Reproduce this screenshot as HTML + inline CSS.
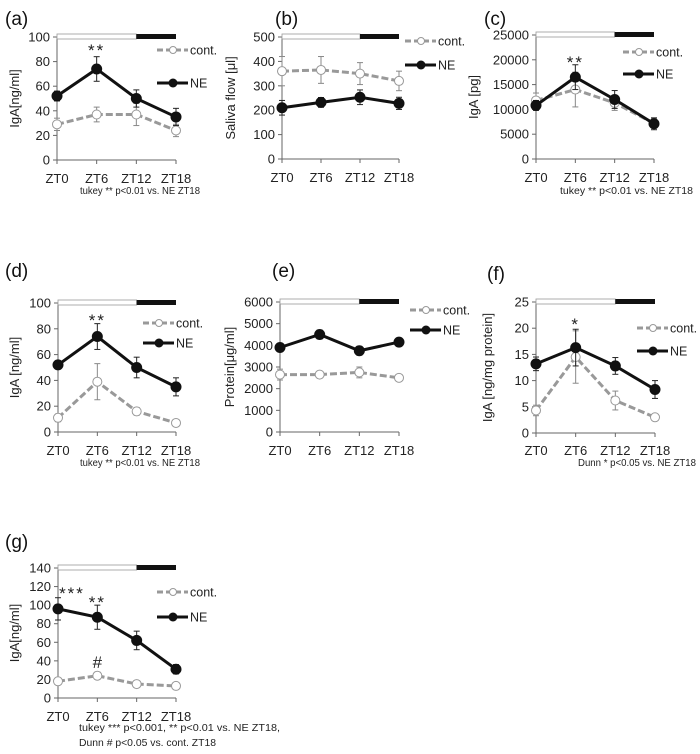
<!DOCTYPE html>
<html><head><meta charset="utf-8">
<style>
body{margin:0;background:#fff;width:700px;height:749px;overflow:hidden}
svg{font-family:"Liberation Sans","DejaVu Sans",sans-serif}
</style></head>
<body>
<svg id="fig" width="700" height="749" xmlns="http://www.w3.org/2000/svg"></svg>
<script>
const categories=["ZT0","ZT6","ZT12","ZT18"];
const aCont=[29,37,37,24], aContErr=[5,6,9,5], aNE=[52,74,50,35], aNEErr=[4,10,7,7];
const bCont=[360,365,350,320], bContErr=[60,55,45,40], bNE=[210,232,253,228], bNEErr=[30,20,30,25];
const cCont=[11800,14000,11300,7200], cContErr=[1500,3500,1500,1000], cNE=[10800,16500,12000,7100], cNEErr=[1000,2500,1800,1200];
const dCont=[11,39,16,7], dContErr=[3,14,3,1], dNE=[52,74,50,35], dNEErr=[3,10,8,7];
const eCont=[2650,2650,2750,2500], eContErr=[250,150,250,100], eNE=[3900,4500,3750,4150], eNEErr=[150,200,200,150];
const fCont=[4.3,14.5,6.2,3], fContErr=[1,5,1.8,0.5], fNE=[13.2,16.3,12.8,8.3], fNEErr=[1.3,3.5,1.6,1.7];
const gCont=[18,24,15,13], gContErr=[2,4,2,2], gNE=[96,87,62,31], gNEErr=[12,13,10,5];
const ticksA=[0,20,40,60,80,100], ticksB=[0,100,200,300,400,500], ticksC=[0,5000,10000,15000,20000,25000];
const ticksE=[0,1000,2000,3000,4000,5000,6000], ticksF=[0,5,10,15,20,25], ticksG=[0,20,40,60,80,100,120,140];

const NS="http://www.w3.org/2000/svg";
const svg=document.getElementById('fig');
function mk(tag,attrs,parent,text){const e=document.createElementNS(NS,tag);for(const k in attrs)e.setAttribute(k,attrs[k]);if(text!==undefined)e.textContent=text;(parent||svg).appendChild(e);return e;}

const panels=[
 {id:"a",x0:57,x1:176,yTop:37,yBot:160,ticks:ticksA,cont:aCont,ce:aContErr,ne:aNE,ne_e:aNEErr,title:"IgA[ng/ml]",tx:19,lx:157,ly:50,ly2:83,labY:178,
  stars:[{t:"**",i:1,y:48}],notes:[{t:"tukey ** p<0.01 vs. NE ZT18",x:80,y:194,w:120}]},
 {id:"b",x0:282,x1:399,yTop:37,yBot:159,ticks:ticksB,cont:bCont,ce:bContErr,ne:bNE,ne_e:bNEErr,title:"Saliva flow [\u03bcl]",tx:235,lx:405,ly:41,ly2:65,labY:177,stars:[],notes:[]},
 {id:"c",x0:536,x1:654,yTop:35,yBot:159,ticks:ticksC,cont:cCont,ce:cContErr,ne:cNE,ne_e:cNEErr,title:"IgA [pg]",tx:478,lx:623,ly:52,ly2:74,labY:177,
  stars:[{t:"**",i:1,y:60}],notes:[{t:"tukey ** p<0.01 vs. NE ZT18",x:560,y:194,w:133}]},
 {id:"d",x0:58,x1:176,yTop:303,yBot:432,ticks:ticksA,cont:dCont,ce:dContErr,ne:dNE,ne_e:dNEErr,title:"IgA [ng/ml]",tx:19,lx:143,ly:323,ly2:343,labY:450,
  stars:[{t:"**",i:1,y:318}],notes:[{t:"tukey ** p<0.01 vs. NE ZT18",x:80,y:466,w:120}]},
 {id:"e",x0:280,x1:399,yTop:302,yBot:432,ticks:ticksE,cont:eCont,ce:eContErr,ne:eNE,ne_e:eNEErr,title:"Protein[\u03bcg/ml]",tx:234,lx:410,ly:310,ly2:330,labY:450,stars:[],notes:[]},
 {id:"f",x0:536,x1:655,yTop:302,yBot:433,ticks:ticksF,cont:fCont,ce:fContErr,ne:fNE,ne_e:fNEErr,title:"IgA [ng/mg protein]",tx:492,lx:637,ly:328,ly2:351,labY:450,
  stars:[{t:"*",i:1,y:322}],notes:[{t:"Dunn * p<0.05 vs. NE ZT18",x:578,y:466,w:118}]},
 {id:"g",x0:58,x1:176,yTop:568,yBot:698,ticks:ticksG,cont:gCont,ce:gContErr,ne:gNE,ne_e:gNEErr,title:"IgA[ng/ml]",tx:19,lx:157,ly:592,ly2:617,labY:716,
  stars:[{t:"***",i:0,y:591,dx:14},{t:"**",i:1,y:600},{t:"#",i:1,y:660}],
  notes:[{t:"tukey *** p<0.001, ** p<0.01 vs. NE ZT18,",x:79,y:731,w:201},{t:"Dunn # p<0.05 vs. cont. ZT18",x:79,y:746,w:137}]}
];
const titlePos={a:[5,25],b:[275,25],c:[484,25],d:[5,277],e:[272,277],f:[487,280],g:[5,548]};

panels.forEach(p=>{
  const g=mk('g',{});
  
  
  const max=p.ticks[p.ticks.length-1];
  const sy=v=>p.yBot-(v/max)*(p.yBot-p.yTop);
  const sx=i=>p.x0+i*(p.x1-p.x0)/(categories.length-1);
  const pt=titlePos[p.id];
  const t=mk('text',{x:pt[0],y:pt[1],'font-size':19,fill:'#111'},g,'('+p.id+')');
  
  
  mk('line',{x1:p.x0,y1:p.yTop,x2:p.x0,y2:p.yBot,stroke:'#666','stroke-width':1},g);
  mk('line',{x1:p.x0,y1:p.yBot,x2:p.x1,y2:p.yBot,stroke:'#666','stroke-width':1},g);
  p.ticks.forEach(v=>{
    mk('line',{x1:p.x0-4,y1:sy(v),x2:p.x0,y2:sy(v),stroke:'#666'},g);
    const tl=mk('text',{x:p.x0-7,y:sy(v)+4.5,'font-size':13,'text-anchor':'end',fill:'#222'},g,String(v));
    
    
  });
  categories.forEach((c,i)=>{
    mk('line',{x1:sx(i),y1:p.yBot,x2:sx(i),y2:p.yBot+4,stroke:'#666'},g);
    const xl=mk('text',{x:sx(i),y:p.labY+5,'font-size':13,'text-anchor':'middle',fill:'#222'},g,c);
    
    
  });
  const bm=p.x0+(p.x1-p.x0)*2/3;
  const lb=mk('rect',{x:p.x0,y:p.yTop-3,width:bm-p.x0,height:5,fill:'#fff',stroke:'#999','stroke-width':0.8},g);
  
  
  const db=mk('rect',{x:bm,y:p.yTop-3,width:p.x1-bm,height:5,fill:'#111'},g);
  
  
  const yt=mk('text',{x:0,y:0,'font-size':13,'text-anchor':'middle',fill:'#222',transform:`translate(${p.tx},${(p.yTop+p.yBot)/2}) rotate(-90)`},g,p.title);
  
  
  function series(vals,errs,color,dash,filled,name){
    const sg=mk('g',{},g);
    
    
    vals.forEach((v,i)=>{
      const x=sx(i),y1=sy(v+errs[i]),y2=sy(v-errs[i]);
      mk('line',{x1:x,y1:y1,x2:x,y2:y2,stroke:filled?'#222':'#888','stroke-width':1},sg);
      mk('line',{x1:x-3,y1:y1,x2:x+3,y2:y1,stroke:filled?'#222':'#888'},sg);
      mk('line',{x1:x-3,y1:y2,x2:x+3,y2:y2,stroke:filled?'#222':'#888'},sg);
    });
    const pts=vals.map((v,i)=>sx(i)+','+sy(v)).join(' ');
    mk('polyline',{points:pts,fill:'none',stroke:color,'stroke-width':3,'stroke-dasharray':dash||'none'},sg);
    vals.forEach((v,i)=>{
      const c=mk('circle',{cx:sx(i),cy:sy(v),r:filled?5:4.5,fill:filled?'#111':'#fff',stroke:filled?'#111':'#999','stroke-width':1},sg);
      
      
    });
  }
  series(p.cont,p.ce,'#999','7,3',false,'series-cont');
  series(p.ne,p.ne_e,'#111',null,true,'series-ne');
  const lg=mk('g',{},g);
  
  
  mk('line',{x1:p.lx,y1:p.ly,x2:p.lx+31,y2:p.ly,stroke:'#999','stroke-width':3,'stroke-dasharray':'6,3'},lg);
  mk('circle',{cx:p.lx+16,cy:p.ly,r:3.5,fill:'#fff',stroke:'#999'},lg);
  mk('text',{x:p.lx+33,y:p.ly+4.5,'font-size':12.5,fill:'#222'},lg,'cont.');
  mk('line',{x1:p.lx,y1:p.ly2,x2:p.lx+31,y2:p.ly2,stroke:'#111','stroke-width':3},lg);
  mk('circle',{cx:p.lx+16,cy:p.ly2,r:4.5,fill:'#111'},lg);
  mk('text',{x:p.lx+33,y:p.ly2+4.5,'font-size':12.5,fill:'#222'},lg,'NE');
  p.stars.forEach(s=>{
    const st=mk('text',{x:sx(s.i)+(s.dx||0),y:s.y+8,'font-size':17,'text-anchor':'middle',fill:'#222','letter-spacing':s.t==='#'?0:2},g,s.t);
    
    
  });
  p.notes.forEach(n=>{
    const nt=mk('text',{x:n.x,y:n.y,'font-size':10.5,fill:'#222',textLength:n.w,lengthAdjust:'spacingAndGlyphs'},g,n.t);
    
    
  });
});
</script>
</body></html>
